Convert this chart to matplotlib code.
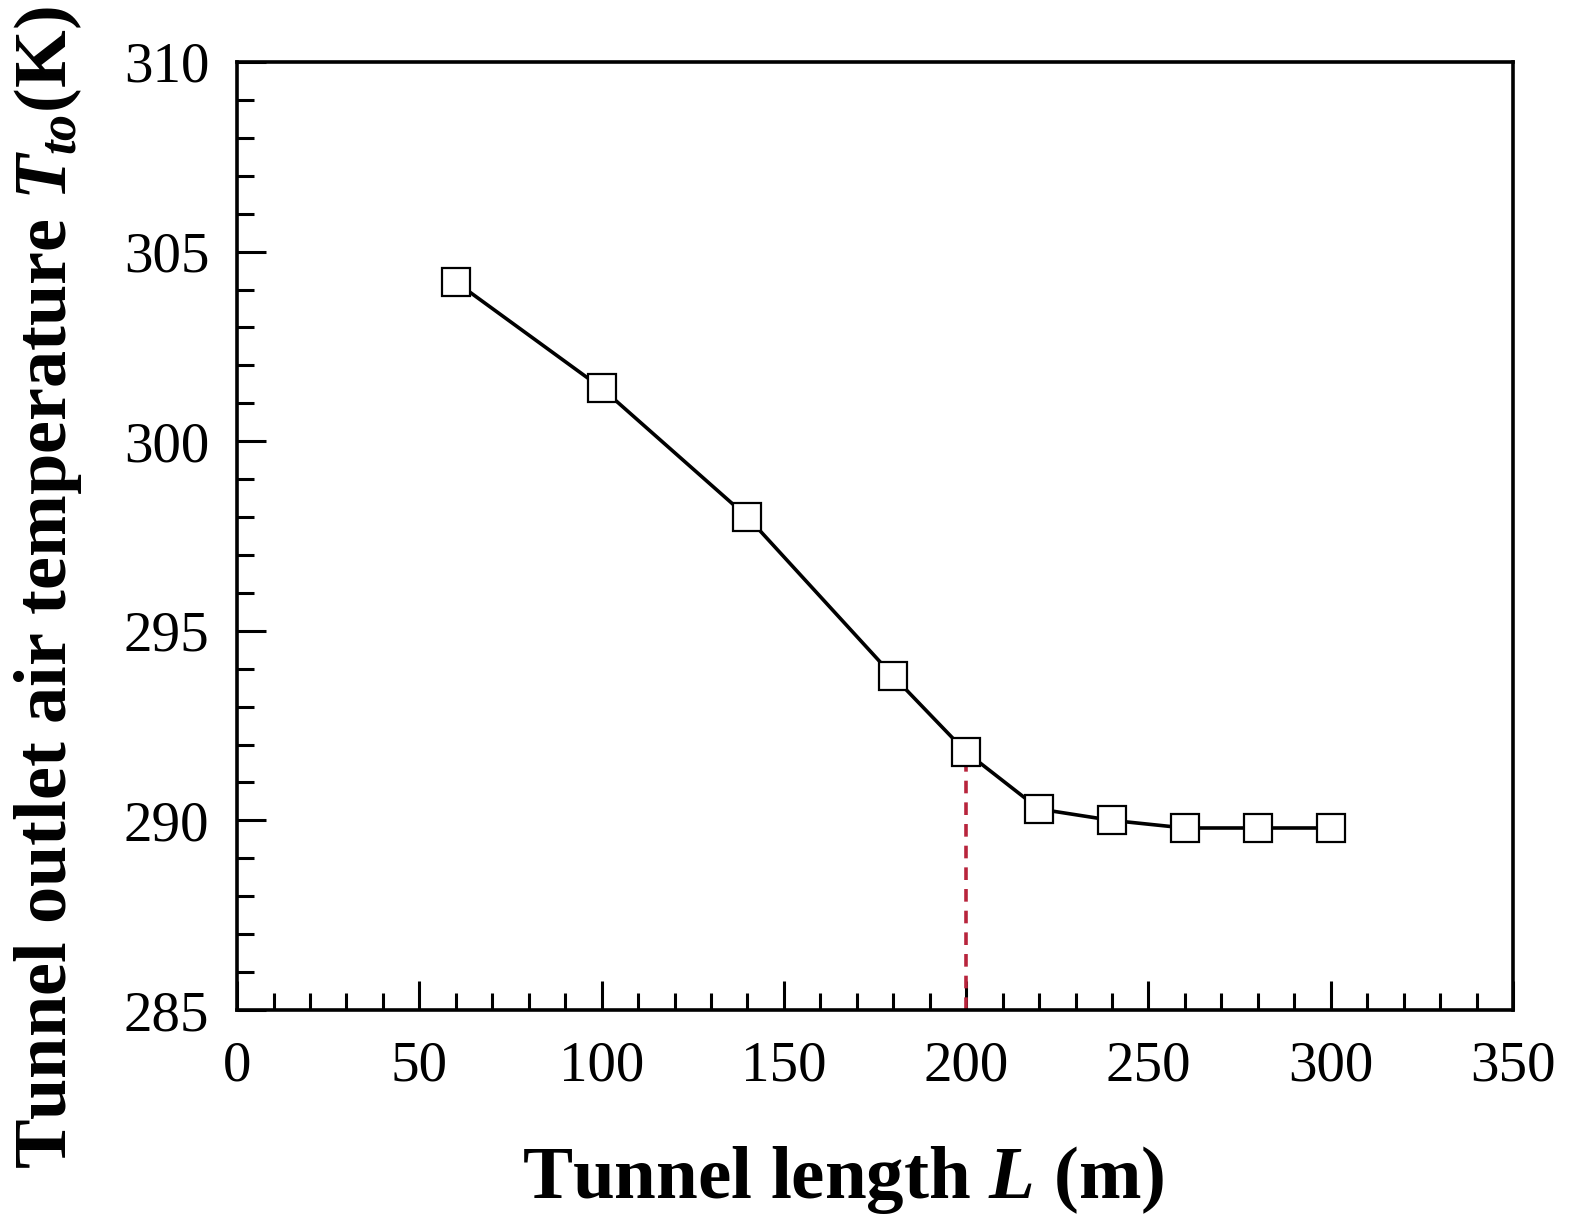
import matplotlib
matplotlib.use("Agg")
from matplotlib import pyplot as plt
from matplotlib.ticker import MultipleLocator

plt.rcParams['font.family'] = ['Liberation Serif', 'DejaVu Serif']
plt.rcParams['mathtext.fontset'] = 'custom'
plt.rcParams['mathtext.rm'] = 'Liberation Serif:bold'
plt.rcParams['mathtext.it'] = 'Liberation Serif:bold:italic'
plt.rcParams['mathtext.bf'] = 'Liberation Serif:bold'

# data
tunnel_length = [60, 100, 140, 180, 200, 220, 240, 260, 280, 300]
outlet_temp = [304.2, 301.4, 298.0, 293.8, 291.8, 290.3, 290.0, 289.8, 289.8, 289.8]
mark_length = 200
mark_temp = 291.8

fig = plt.figure(figsize=(15.72, 12.25), dpi=100)
ax = fig.add_axes([0.1508, 0.1755, 0.8117, 0.7739])

ax.plot([mark_length, mark_length], [285, mark_temp], color='#b8243c',
        linestyle=(0, (3.5, 2.5)), linewidth=2.6, zorder=2)
ax.plot(tunnel_length, outlet_temp, color='black', linewidth=2.6,
        marker='s', markersize=20, markerfacecolor='white',
        markeredgecolor='black', markeredgewidth=1.6, zorder=3)

ax.set_xlim(0, 350)
ax.set_ylim(285, 310)
ax.xaxis.set_major_locator(MultipleLocator(50))
ax.xaxis.set_minor_locator(MultipleLocator(10))
ax.yaxis.set_major_locator(MultipleLocator(5))
ax.yaxis.set_minor_locator(MultipleLocator(1))
ax.tick_params(which='both', direction='in', top=False, right=False, width=2.2)
ax.tick_params(which='major', length=21, labelsize=41)
ax.tick_params(axis='x', which='major', pad=22)
ax.tick_params(axis='y', which='major', pad=20)
ax.tick_params(which='minor', length=12)
for s in ax.spines.values():
    s.set_linewidth(2.6)

ax.set_xlabel('Tunnel length $L$ (m)', fontsize=54, fontweight='bold',
              va='center', ha='center')
ax.xaxis.set_label_coords(0.475, -0.179)
ax.set_ylabel('Tunnel outlet air temperature $T_{to}$(K)', fontsize=53.5,
              fontweight='bold', va='center', ha='center')
ax.yaxis.set_label_coords(-0.148, 0.446)

fig.savefig('out.png', dpi=100, facecolor='white')
